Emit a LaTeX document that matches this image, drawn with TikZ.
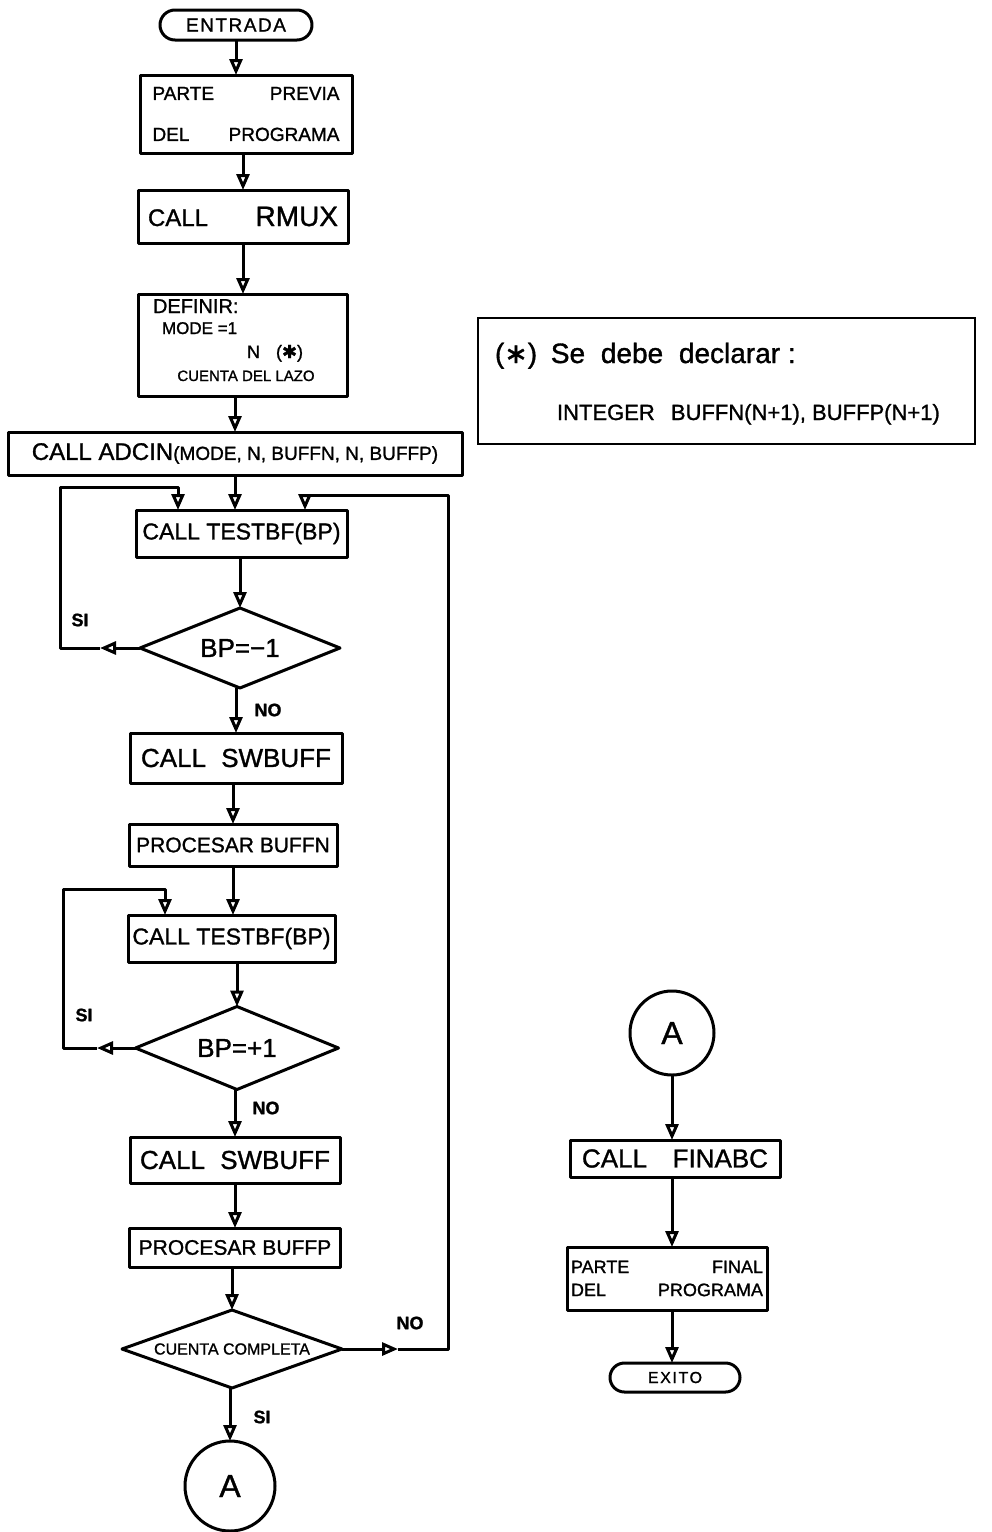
\documentclass[tikz,border=0pt]{standalone}
\usepackage{fontspec}
\setmainfont{Liberation Sans}[FakeBold=1.2]
\newfontfamily\djv{DejaVu Sans}[FakeBold=1.2]
\usetikzlibrary{arrows.meta,shapes.geometric,calc}
\newcommand\fsz[2]{\fontsize{#1}{#2}\selectfont}
\begin{document}
\begin{tikzpicture}[x=1pt,y=-1pt,
  every node/.style={inner sep=0pt, outer sep=0pt},
  ln/.style={line width=3pt, line join=round},
  arr/.style={ln, -{Triangle[open,length=16pt,width=13pt]}},
  box/.style 2 args={draw, ln, rectangle, minimum width=#1, minimum height=#2, align=center},
  term/.style 2 args={draw, ln, rectangle, rounded corners=#2/2, minimum width=#1, minimum height=#2},
  dia/.style 2 args={draw, ln, diamond, aspect=2.5, minimum width=#1, minimum height=#2},
  conn/.style={draw, ln, circle, minimum size=#1},
  lbl/.style={font=\fsz{18}{20}\bfseries}
]
\useasboundingbox (0,0) rectangle (992,1532);

% main column
\node[term={152pt}{30pt}, font=\fsz{19}{22}] (ent) at (236,25) {\addfontfeatures{LetterSpace=8}ENTRADA};
\node[box={212pt}{78pt}, font=\fsz{19}{41}] (pp) at (246,114) {\makebox[187pt][s]{PARTE PREVIA}\\\makebox[187pt][s]{DEL PROGRAMA}};
\node[box={210pt}{53pt}] (rmux) at (243,216.5) {\makebox[190pt][s]{\fsz{24}{28}CALL \fsz{28}{32}RMUX}};
\node[box={209pt}{102pt}] (def) at (243,345) {};
\node[anchor=base west] (t1) at (153,313) {\fsz{20}{24}DEFINIR:};
\node[anchor=base west] (t2) at (162,334) {\fsz{17}{20}MODE =1};
\node[anchor=base west] (t3) at (247,358) {\fsz{18}{20}N\hspace{16pt}({\djv ✱})};
\node[anchor=base] (t4) at (246,381) {\fsz{15}{18}CUENTA DEL LAZO};
\node[box={454pt}{43pt}] (adcin) at (235,453.5) {\fsz{24}{28}CALL ADCIN\fsz{19}{22}(MODE, N, BUFFN, N, BUFFP)};
\node[box={211pt}{47pt}] (tb1) at (241.5,533.5) {\fsz{23}{26}CALL TESTBF(BP)};
\node[dia={200pt}{80pt}] (d1) at (240,648) {\fsz{26}{30}BP=−1};
\node[box={212pt}{50pt}] (sw1) at (236,758) {\makebox[190pt][s]{\fsz{26}{30}CALL SWBUFF}};
\node[box={208pt}{42pt}] (pbn) at (233,845) {\fsz{21}{24}PROCESAR BUFFN};
\node[box={207pt}{47pt}] (tb2) at (231.5,938.5) {\fsz{23}{26}CALL TESTBF(BP)};
\node[dia={203pt}{83pt}] (d2) at (237,1048) {\fsz{26}{30}BP=+1};
\node[box={210pt}{46pt}] (sw2) at (235,1160) {\makebox[190pt][s]{\fsz{26}{30}CALL SWBUFF}};
\node[box={211pt}{39pt}] (pbp) at (235,1247.5) {\fsz{21}{24}PROCESAR BUFFP};
\node[dia={220pt}{78pt}] (d3) at (232,1349) {\fsz{16}{18}CUENTA COMPLETA};
\node[conn=90pt] (ca) at (230,1486) {\fsz{32}{36}A};

% right column
\node[conn=84pt] (cb) at (672,1033) {\fsz{32}{36}A};
\node[box={210pt}{37pt}] (fin) at (675,1158.5) {\makebox[186pt][s]{\fsz{26}{30}CALL FINABC}};
\node[box={200pt}{63pt}, font=\fsz{18}{23}] (pf) at (667,1278.5) {\makebox[192pt][s]{PARTE FINAL}\\\makebox[192pt][s]{DEL PROGRAMA}};
\node[term={130pt}{29pt}, font=\fsz{16}{18}] (ex) at (675,1377.5) {\addfontfeatures{LetterSpace=10}EXITO};

% note
\node[draw, line width=2pt, minimum width=497pt, minimum height=126pt] (note) at (726.5,381) {};
\node[anchor=base west] (n1) at (495,363) {\fsz{28}{32}({\djv ∗})\hspace{6pt} Se\hspace{8pt} debe\hspace{8pt} declarar :};
\node[anchor=base west] (n2) at (557,420) {\fsz{22}{26}INTEGER\hspace{10pt} BUFFN(N+1), BUFFP(N+1)};

% labels
\node[lbl] (si1) at (80,620) {SI};
\node[lbl] (no1) at (268,710) {NO};
\node[lbl] (si2) at (84,1015) {SI};
\node[lbl] (no2) at (266,1108) {NO};
\node[lbl] (no3) at (410,1323) {NO};
\node[lbl] (si3) at (262,1417) {SI};

% straight connectors
\draw[arr] (ent.south) -- (ent.south |- pp.north);
\draw[arr] (rmux.north |- pp.south) -- (rmux.north);
\draw[arr] (def.north |- rmux.south) -- (def.north);
\draw[arr] (adcin.north |- def.south) -- (adcin.north);
\draw[arr] (adcin.south) -- (adcin.south |- tb1.north);
\draw[arr] (d1.north |- tb1.south) -- (d1.north);
\draw[arr] (sw1.north |- d1.south) -- (sw1.north);
\draw[arr] (pbn.north |- sw1.south) -- (pbn.north);
\draw[arr] (pbn.south) -- (pbn.south |- tb2.north);
\draw[arr] (d2.north |- tb2.south) -- (d2.north);
\draw[arr] (sw2.north |- d2.south) -- (sw2.north);
\draw[arr] (pbp.north |- sw2.south) -- (pbp.north);
\draw[arr] (d3.north |- pbp.south) -- (d3.north);
\draw[arr] (ca.north |- d3.south) -- (ca.north);
\draw[arr] (cb.south) -- (cb.south |- fin.north);
\draw[arr] (cb.south |- fin.south) -- (cb.south |- pf.north);
\draw[arr] (cb.south |- pf.south) -- (cb.south |- ex.north);

% loop 1 (SI)
\coordinate (h1) at (100,648);
\coordinate (c1a) at (60,648);
\coordinate (c1b) at (60,487);
\coordinate (c1c) at (178,487);
\draw[arr] (d1.west) -- (h1);
\draw[arr] (h1) -- (c1a) -- (c1b) -- (c1c) -- (c1c |- tb1.north);

% loop 2 (SI)
\coordinate (h2) at (97,1048);
\coordinate (c2a) at (63,1048);
\coordinate (c2b) at (63,889);
\coordinate (c2c) at (165,889);
\draw[arr] (d2.west) -- (h2);
\draw[arr] (h2) -- (c2a) -- (c2b) -- (c2c) -- (c2c |- tb2.north);

% loop 3 (NO)
\coordinate (h3) at (398,1349);
\coordinate (c3a) at (448,1349);
\coordinate (c3b) at (448,495);
\coordinate (c3c) at (305,495);
\draw[arr] (d3.east) -- (h3);
\draw[arr] (h3) -- (c3a) -- (c3b) -- (c3c) -- (c3c |- tb1.north);
\end{tikzpicture}
\end{document}
